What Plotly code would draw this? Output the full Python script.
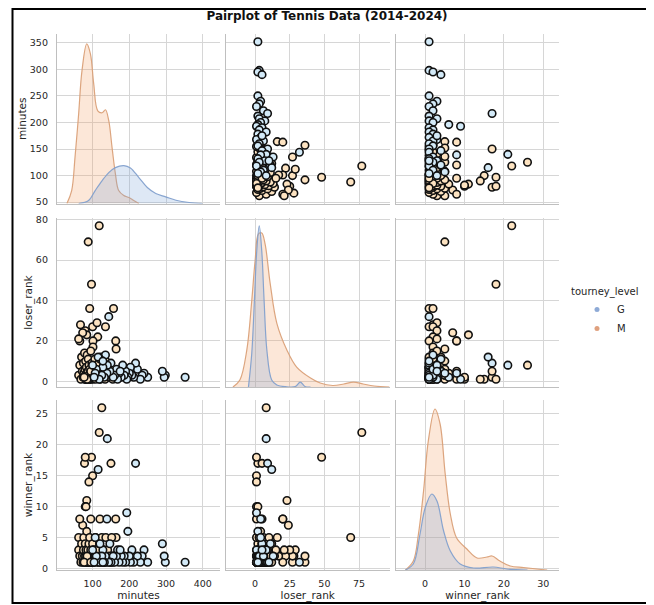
import plotly.graph_objects as go

# ---------------- data ----------------
# Grand Slam finals (G): minutes, loser_rank, winner_rank
g_minutes = [352, 298, 295, 290, 250, 240, 235, 230, 222, 217, 212, 207, 203, 200, 196,
             193, 190, 186, 182, 178, 172, 168, 165, 160, 156, 150, 147, 144, 140, 139,
             135, 132, 128, 125, 120, 118, 115, 110, 107, 104, 100, 128, 175]
g_loser = [2, 3, 2, 5, 2, 4, 3, 1, 6, 9, 2, 3, 7, 4, 2,
           1, 5, 3, 8, 2, 4, 1, 6, 3, 2, 9, 5, 32, 8, 4,
           13, 2, 7, 3, 11, 1, 12, 6, 4, 2, 8, 10, 5]
g_winner = [1, 1, 2, 4, 1, 3, 2, 1, 2, 17, 1, 3, 1, 2, 6,
            9, 1, 2, 1, 2, 1, 3, 2, 1, 2, 1, 4, 1, 21, 8,
            2, 1, 3, 2, 4, 1, 16, 2, 5, 1, 3, 1, 3]

# Masters finals (M): minutes, loser_rank, winner_rank
m_minutes = [118, 88, 97, 92, 157, 67, 100, 112, 135, 80, 84, 73, 65, 114, 101,
             164, 101, 78, 150, 80, 125, 100, 90, 80, 82, 95, 120, 163, 62,
             62, 65, 68, 70, 72, 74, 75, 76, 78, 79, 80, 81, 82, 83, 84,
             85, 86, 87, 88, 89, 90, 91, 92, 93, 95, 96, 98, 100, 102, 104,
             106, 108, 110, 112, 115, 117, 119, 121, 123, 125, 127, 128, 130, 132, 134,
             136, 138, 141, 145, 148, 152, 155, 160, 85, 77, 95]
m_loser = [77, 69, 48, 36, 36, 28, 27, 29, 27, 25, 23, 24, 20, 22, 20,
           16, 17, 2, 5, 1, 8, 1, 1, 1, 2, 1, 5, 20, 21,
           3, 8, 1, 12, 5, 2, 9, 4, 14, 6, 3, 10, 1, 7, 4,
           13, 2, 5, 11, 3, 8, 1, 6, 2, 15, 4, 9, 2, 6, 3,
           11, 1, 7, 4, 2, 9, 5, 1, 12, 3, 6, 2, 8, 4, 1,
           10, 3, 5, 2, 7, 3, 1, 4, 1, 2, 5]
m_winner = [22, 5, 18, 1, 2, 2, 1, 3, 2, 3, 11, 7, 8, 2, 1,
            5, 2, 17, 17, 18, 26, 15, 14, 10, 10, 8, 8, 8, 3,
            5, 2, 1, 4, 2, 1, 3, 5, 2, 1, 4, 2, 3, 1, 6,
            2, 1, 3, 1, 2, 4, 1, 5, 2, 3, 1, 2, 4, 1, 3,
            2, 5, 1, 2, 3, 1, 4, 2, 1, 5, 2, 1, 3, 1, 2,
            5, 1, 3, 2, 1, 5, 1, 2, 2, 1, 1]

variables = ["minutes", "loser_rank", "winner_rank"]
levels = ["G", "M"]

# KDE curves on the diagonal (relative density on a 0-170 scale)
kde_min_x_M = [30, 43, 52, 62, 71, 84, 94, 103, 114, 126, 135, 144, 153, 162, 171, 185, 199, 212, 226]
kde_min_y_M = [0, 13, 46, 90, 133, 160, 150, 120, 93, 91, 94, 83, 56, 30, 13, 8, 6, 3, 0]
kde_min_x_G = [62, 89, 107, 126, 144, 162, 185, 203, 226, 249, 272, 299, 327, 363, 399]
kde_min_y_G = [0, 3, 13, 23, 31, 36, 38, 35.7, 26, 16, 10, 6.7, 3.3, 1, 0]

kde_los_x_M = [-16, -11, -6, -2.4, 0, 2.4, 4.8, 7.2, 10.9, 15.7, 23, 30, 40, 47, 56, 64, 71, 78, 86, 97]
kde_los_y_M = [0, 7, 37, 87, 127, 154, 155, 144, 104, 64, 37, 20, 9, 4, 1.5, 3, 5, 3, 1, 0]
kde_los_x_G = [-4.8, -2.4, -0.5, 1.2, 3, 4.8, 6.5, 8.5, 12, 15.7, 22, 29, 32.6, 36, 40]
kde_los_y_G = [0, 34, 87, 137, 162, 137, 87, 37, 7, 2, 0.3, 0.5, 5, 0.5, 0]

kde_win_x_M = [-5, -3, -1.7, -0.4, 0.8, 2.5, 3.8, 5.1, 6.4, 8, 10.6, 13.2, 15.7, 17, 19, 21.6, 25, 28.4, 31]
kde_win_y_M = [0, 9, 36, 79, 129, 161, 146, 96, 56, 32, 21, 12, 13, 14, 9, 4, 2.5, 1, 0]
kde_win_x_G = [-5, -3, -1.3, 0, 1.7, 3, 4.7, 6.4, 8.9, 12.3, 17.3, 20.8, 26]
kde_win_y_G = [0, 6, 36, 62, 76, 69, 39, 19, 6, 2, 3, 1, 0]
KDE_SCALE_TOP = 170.0

# ---------------- styling ----------------
FONT = "DejaVu Sans"
TXT = "#262626"
FACE = {"G": "#d3eaf8", "M": "#fde3c1"}
LEG = {"G": "#8eaad6", "M": "#dfa07e"}
KLINE = {"G": "rgba(130,160,205,0.95)", "M": "rgba(218,160,120,0.95)"}
KFILL = {"G": "rgba(125,165,215,0.25)", "M": "rgba(242,160,100,0.25)"}
GRID = "#d6d6d6"
SPINE = "#bfbfbf"

# the page body has an 8px margin, so the figure is drawn 8px right/down
OFF = 8
W, H = 654 - OFF, 605 - OFF


def px_x(p):
    return (p - OFF) / W


def px_y(p):
    return 1 - (p - OFF) / H


col_px = [(57, 220), (226, 389.5), (396, 559)]
row_px = [(34, 203.5), (218, 387), (400, 570)]
xdom = [[px_x(a), px_x(b)] for a, b in col_px]
ydom = [[px_y(b), px_y(a)] for a, b in row_px]

xranges = {"minutes": [3, 447], "loser_rank": [-21, 97], "winner_rank": [-7.4, 34]}
yranges = {"minutes": [47.5, 366.5], "loser_rank": [-2.8, 80.8], "winner_rank": [-0.25, 27.25]}
xticks = {"minutes": [100, 200, 300, 400], "loser_rank": [0, 25, 50, 75], "winner_rank": [0, 10, 20, 30]}
yticks = {"minutes": [50, 100, 150, 200, 250, 300, 350], "loser_rank": [0, 20, 40, 60, 80],
          "winner_rank": [0, 5, 10, 15, 20, 25]}

data = {
    "G": {"minutes": g_minutes, "loser_rank": g_loser, "winner_rank": g_winner},
    "M": {"minutes": m_minutes, "loser_rank": m_loser, "winner_rank": m_winner},
}
kdes = {
    "minutes": {"M": (kde_min_x_M, kde_min_y_M), "G": (kde_min_x_G, kde_min_y_G)},
    "loser_rank": {"M": (kde_los_x_M, kde_los_y_M), "G": (kde_los_x_G, kde_los_y_G)},
    "winner_rank": {"M": (kde_win_x_M, kde_win_y_M), "G": (kde_win_x_G, kde_win_y_G)},
}

fig = go.Figure()
layout = {}

for r, yv in enumerate(variables):
    for c, xv in enumerate(variables):
        k = r * 3 + c + 1
        xa = "x" if k == 1 else f"x{k}"
        ya = "y" if k == 1 else f"y{k}"
        layout["xaxis" if k == 1 else f"xaxis{k}"] = dict(
            domain=xdom[c], anchor=ya, range=xranges[xv], tickvals=xticks[xv],
            showgrid=True, gridcolor=GRID, gridwidth=1, zeroline=False,
            showline=True, linecolor=SPINE, linewidth=1.3, ticks="",
            showticklabels=(r == 2), ticklabelstandoff=4,
            tickfont=dict(family=FONT, size=9.5, color=TXT),
            title=dict(text=xv if r == 2 else "", font=dict(family=FONT, size=10.5, color=TXT), standoff=2),
            automargin=False, fixedrange=True,
        )
        layout["yaxis" if k == 1 else f"yaxis{k}"] = dict(
            domain=ydom[r], anchor=xa, range=yranges[yv], tickvals=yticks[yv],
            showgrid=True, gridcolor=GRID, gridwidth=1, zeroline=False,
            showline=True, linecolor=SPINE, linewidth=1.3, ticks="",
            showticklabels=(c == 0), ticklabelstandoff=6,
            tickfont=dict(family=FONT, size=9.5, color=TXT),
            title=dict(text=yv if c == 0 else "", font=dict(family=FONT, size=10.5, color=TXT), standoff=1),
            automargin=False, fixedrange=True,
        )
        if r == c:
            # diagonal: density drawn on its own (twin) scale, mapped onto the cell's height
            lo, hi = yranges[yv]
            for lev in ["M", "G"]:
                kx, ky = kdes[xv][lev]
                ys = [lo + v / KDE_SCALE_TOP * (hi - lo) for v in ky]
                fig.add_trace(go.Scatter(
                    x=kx, y=ys, xaxis=xa, yaxis=ya, mode="lines",
                    line=dict(color=KLINE[lev], width=1.2, shape="spline", smoothing=1.0),
                    fill="toself", fillcolor=KFILL[lev], showlegend=False, hoverinfo="skip",
                ))
        else:
            for lev in ["M", "G"]:
                fig.add_trace(go.Scatter(
                    x=data[lev][xv], y=data[lev][yv], xaxis=xa, yaxis=ya, mode="markers",
                    marker=dict(size=7.5, color=FACE[lev], line=dict(color="#111111", width=1.6)),
                    showlegend=False, name=lev,
                ))

# legend entries
for lev in levels:
    fig.add_trace(go.Scatter(
        x=[None], y=[None], mode="markers", name=lev,
        marker=dict(size=5, color=LEG[lev]), showlegend=True,
    ))

layout.update(
    width=W, height=H,
    margin=dict(l=0, r=0, t=0, b=0),
    paper_bgcolor="white", plot_bgcolor="white",
    font=dict(family=FONT, color=TXT),
    title=dict(text="Pairplot of Tennis Data (2014-2024)", x=0.5 + (327 - OFF - W / 2) / W,
               xanchor="center", y=px_y(16), yanchor="middle",
               font=dict(family=FONT, size=12, color="#111111", weight="bold")),
    legend=dict(title=dict(text="tourney_level", font=dict(family=FONT, size=10, color=TXT)),
                font=dict(family=FONT, size=10, color=TXT),
                x=px_x(569), y=px_y(282), xanchor="left", yanchor="top",
                bgcolor="rgba(0,0,0,0)", tracegroupgap=0, itemwidth=30, indentation=8),
    shapes=[dict(type="rect", xref="paper", yref="paper",
                 x0=px_x(12.5), x1=px_x(650.5), y0=px_y(603), y1=px_y(9),
                 line=dict(color="black", width=2), fillcolor="rgba(0,0,0,0)")],
    showlegend=True,
)
fig.update_layout(**layout)
fig.write_html("out.html")
